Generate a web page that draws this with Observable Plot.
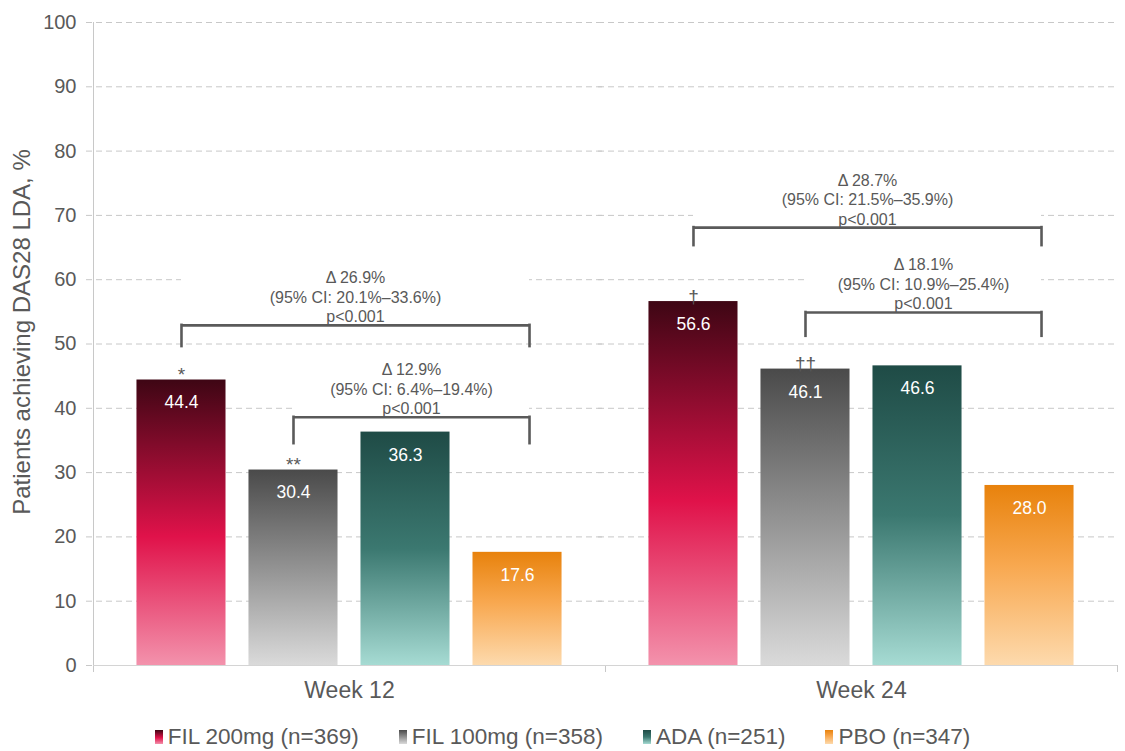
<!DOCTYPE html>
<html>
<head>
<meta charset="utf-8">
<script src="https://cdn.jsdelivr.net/npm/d3@7"></script>
<script src="https://cdn.jsdelivr.net/npm/@observablehq/plot@0.6"></script>
<style>
  body { margin: 0; background: #fff; font-family: "Liberation Sans", Arial, sans-serif; }
  #chart svg { display: block; }
  #legend { display: flex; justify-content: center; align-items: center; gap: 40px; height: 36px; margin-top: 4px;
            font-size: 22.5px; color: #595959; font-family: "Liberation Sans", Arial, sans-serif; }
  .item { display: flex; align-items: center; gap: 5px; white-space: nowrap; }
  .sw { width: 8px; height: 14px; display: inline-block; }
</style>
</head>
<body>
<svg width="0" height="0" style="position:absolute">
  <defs>
    <linearGradient id="gFil200" x1="0" y1="0" x2="0" y2="1">
      <stop offset="0" stop-color="#3e0614"/>
      <stop offset="0.55" stop-color="#e0124a"/>
      <stop offset="1" stop-color="#f392ac"/>
    </linearGradient>
    <linearGradient id="gFil100" x1="0" y1="0" x2="0" y2="1">
      <stop offset="0" stop-color="#4a4a4a"/>
      <stop offset="1" stop-color="#dadada"/>
    </linearGradient>
    <linearGradient id="gAda" x1="0" y1="0" x2="0" y2="1">
      <stop offset="0" stop-color="#1f4b46"/>
      <stop offset="0.5" stop-color="#3b7870"/>
      <stop offset="1" stop-color="#a6dbd3"/>
    </linearGradient>
    <linearGradient id="gPbo" x1="0" y1="0" x2="0" y2="1">
      <stop offset="0" stop-color="#e8820c"/>
      <stop offset="0.45" stop-color="#f8a850"/>
      <stop offset="1" stop-color="#fddaad"/>
    </linearGradient>
  </defs>
</svg>
<div id="chart"></div>
<div id="legend"></div>
<script>
// ---------- data ----------
const weeks = ["Week 12", "Week 24"];
const treatments = ["FIL 200mg", "FIL 100mg", "ADA", "PBO"];
const legendLabels = ["FIL 200mg (n=369)", "FIL 100mg (n=358)", "ADA (n=251)", "PBO (n=347)"];
const week12Values = [44.4, 30.4, 36.3, 17.6];
const week24Values = [56.6, 46.1, 46.6, 28.0];
const week12Signs = ["*", "**", "", ""];
const week24Signs = ["\u2020", "\u2020\u2020", "", ""];
const yTicks = [0, 10, 20, 30, 40, 50, 60, 70, 80, 90, 100];
const yLabel = "Patients achieving DAS28 LDA, %";

const bracketWeeks = ["Week 12", "Week 12", "Week 24", "Week 24"];
const bracketFrom = ["FIL 200mg", "FIL 100mg", "FIL 200mg", "FIL 100mg"];
const bracketTo = ["PBO", "PBO", "PBO", "PBO"];
const bracketDelta = ["\u0394 26.9%", "\u0394 12.9%", "\u0394 28.7%", "\u0394 18.1%"];
const bracketCI = ["(95% CI: 20.1%\u201333.6%)", "(95% CI: 6.4%\u201319.4%)", "(95% CI: 21.5%\u201335.9%)", "(95% CI: 10.9%\u201325.4%)"];
const bracketP = ["p<0.001", "p<0.001", "p<0.001", "p<0.001"];
const bracketTop = [52.9, 38.6, 68.1, 54.9];
const bracketBottom = [49.6, 34.5, 65.3, 51.2];

// ---------- styles ----------
const gradientIds = ["gFil200", "gFil100", "gAda", "gPbo"];
const legendGradients = [
  "linear-gradient(#3e0614, #e0124a 55%, #f392ac)",
  "linear-gradient(#4a4a4a, #dadada)",
  "linear-gradient(#1f4b46, #3b7870 50%, #a6dbd3)",
  "linear-gradient(#e8820c, #f8a850 45%, #fddaad)"
];
const textColor = "#595959";

// ---------- table ----------
const valuesByWeek = [week12Values, week24Values];
const signsByWeek = [week12Signs, week24Signs];
const bars = weeks.flatMap((w, wi) => treatments.map((t, ti) => ({
  week: w, treatment: t, value: valuesByWeek[wi][ti], sign: signsByWeek[wi][ti]
})));

// ---------- layout ----------
const W = 1125, H = 715, mL = 93, mR = 8, mT = 22, mB = 50;
const padIn = 0.205, padOut = 0.388;
const facetW = (W - mL - mR) / weeks.length;
const step = facetW / (treatments.length - padIn + 2 * padOut);
const bw = step * (1 - padIn);
const edge = padOut * step + bw / 2;
const hook = 12;
const lineStroke = {stroke: "#5a5a5a", strokeWidth: 2.6};

const bracketMarks = bracketWeeks.flatMap((w, i) => {
  const d = [{week: w, from: bracketFrom[i], to: bracketTo[i], top: bracketTop[i], bottom: bracketBottom[i],
              text: [bracketDelta[i], bracketCI[i], bracketP[i]].join("\n")}];
  const k = treatments.indexOf(bracketTo[i]) - treatments.indexOf(bracketFrom[i]);
  const span = k * step + hook;
  return [
    Plot.tickY(d, {fx: "week", x: "from", y: "top", dy: -30, stroke: "white", strokeWidth: 56,
                   insetLeft: bw / 2, insetRight: bw / 2 - span}),
    Plot.tickY(d, {fx: "week", x: "from", y: "top", ...lineStroke, insetLeft: bw / 2, insetRight: bw / 2 - span}),
    Plot.ruleX(d, {fx: "week", x: "from", y1: "bottom", y2: "top", ...lineStroke, strokeLinecap: "square"}),
    Plot.ruleX(d, {fx: "week", x: "to", dx: hook, y1: "bottom", y2: "top", ...lineStroke, strokeLinecap: "square"}),
    Plot.text(d, {fx: "week", x: "from", y: "top", text: "text", dx: span / 2, dy: -3, lineAnchor: "bottom",
                  lineHeight: 1.22, fontSize: 16, fill: textColor})
  ];
});

const chart = Plot.plot({
  width: W, height: H,
  marginLeft: mL, marginRight: mR, marginTop: mT, marginBottom: mB,
  style: {fontFamily: "'Liberation Sans', Arial, sans-serif", background: "white"},
  fx: {domain: weeks, padding: 0},
  x: {domain: treatments, paddingInner: padIn, paddingOuter: padOut, round: false, axis: null},
  y: {domain: [0, 100]},
  color: {domain: treatments, range: gradientIds.map(id => `url(#${id})`)},
  marks: [
    Plot.gridY(yTicks, {stroke: "#c8c8c8", strokeOpacity: 1, strokeDasharray: "6,4", insetLeft: -7}),
    Plot.ruleX([treatments[0]], {x: d => d, fx: () => weeks[0], dx: -edge, y1: 100, y2: 0, insetBottom: -7, stroke: "#c8c8c8"}),
    Plot.ruleX([treatments[0]], {x: d => d, fx: () => weeks[1], dx: -edge, y1: 0, y2: 0, insetBottom: -7, stroke: "#c8c8c8"}),
    Plot.ruleX([treatments[3]], {x: d => d, fx: () => weeks[1], dx: edge, y1: 0, y2: 0, insetBottom: -7, stroke: "#c8c8c8"}),
    Plot.ruleY([0], {stroke: "#d4d4d4", strokeWidth: 1.2}),
    Plot.axisY({ticks: yTicks, tickSize: 0, tickPadding: 17, fontSize: 20, color: textColor, label: null}),
    Plot.axisFx({anchor: "bottom", tickSize: 0, tickPadding: 16, fontSize: 23, color: textColor, label: null}),
    Plot.text([yLabel], {fx: () => weeks[0], frameAnchor: "left", textAnchor: "middle", lineAnchor: "middle",
                         rotate: -90, dx: -71, dy: -12, fontSize: 24, fill: textColor}),
    Plot.barY(bars, {fx: "week", x: "treatment", y: "value", fill: "treatment"}),
    Plot.text(bars, {fx: "week", x: "treatment", y: "value", text: d => d.value.toFixed(1),
                     lineAnchor: "top", dy: 16, fontSize: 17.5, fill: "white"}),
    Plot.text(bars.filter(d => d.sign), {fx: "week", x: "treatment", y: "value", text: "sign",
                     lineAnchor: "bottom", dy: 1, fontSize: 19, fill: textColor})
    , ...bracketMarks
  ]
});
document.getElementById("chart").appendChild(chart);

// ---------- legend ----------
const legend = document.getElementById("legend");
legendLabels.forEach((label, i) => {
  const item = document.createElement("div");
  item.className = "item";
  const sw = document.createElement("span");
  sw.className = "sw";
  sw.style.background = legendGradients[i];
  const tx = document.createElement("span");
  tx.textContent = label;
  item.appendChild(sw);
  item.appendChild(tx);
  legend.appendChild(item);
});
</script>
</body>
</html>
